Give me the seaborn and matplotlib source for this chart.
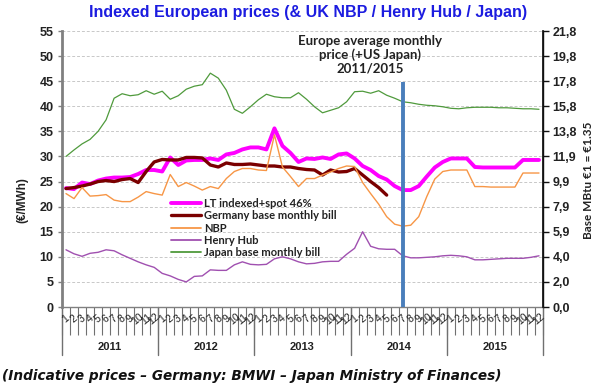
import matplotlib
matplotlib.use("Agg")
import matplotlib.pyplot as plt
import seaborn as sns
import pandas as pd
import numpy as np

# ---------------- data ----------------
years = ["2011", "2012", "2013", "2014", "2015"]
month_labels = [str(m) for m in range(1, 13)] * 5

lt_indexed = [23.7, 23.5, 24.8, 24.5, 25.2, 25.6, 25.8, 25.8, 25.9, 26.5, 27.3, 27.3,
              27.0, 29.8, 28.3, 29.2, 29.3, 29.3, 29.6, 29.3, 30.4, 30.7, 31.4, 31.8,
              31.8, 31.4, 35.6, 32.1, 30.7, 28.9, 29.6, 29.5, 29.8, 29.5, 30.4, 30.6,
              29.6, 28.1, 27.3, 26.1, 25.4, 24.1, 23.3, 23.3, 24.1, 26.0, 27.8, 28.9,
              29.6, 29.6, 29.6, 27.9, 27.8, 27.8, 27.8, 27.8, 27.8, 29.3, 29.3, 29.3]
germany = [23.6, 23.8, 24.1, 24.5, 25.0, 25.2, 25.0, 25.4, 25.6, 24.8, 27.0, 28.9,
           29.4, 29.3, 29.3, 29.8, 29.8, 29.7, 28.3, 27.9, 28.7, 28.4, 28.4, 28.5,
           28.3, 28.1, 28.1, 27.9, 27.9, 27.6, 27.4, 27.3, 26.3, 27.3, 26.9, 27.0,
           27.6, 26.3, 25.0, 23.8, 22.3]
nbp = [22.6, 21.6, 23.8, 22.1, 22.2, 22.4, 21.3, 21.0, 21.0, 21.9, 23.0, 22.6,
       22.3, 26.4, 24.0, 24.8, 24.1, 23.3, 24.0, 23.6, 25.6, 27.0, 27.6, 27.6,
       27.3, 27.2, 34.3, 27.9, 26.0, 24.0, 25.6, 25.6, 26.3, 26.9, 27.6, 28.1,
       28.0, 24.8, 22.6, 20.5, 18.0, 16.5, 16.1, 16.3, 18.0, 22.0, 25.5, 27.0,
       27.3, 27.3, 27.3, 24.0, 24.0, 23.9, 23.9, 23.9, 23.9, 26.7, 26.7, 26.7]
henry_hub = [11.4, 10.6, 10.1, 10.7, 10.9, 11.4, 11.2, 10.4, 9.7, 9.0, 8.4, 7.9,
             6.7, 6.2, 5.5, 5.0, 6.1, 6.2, 7.4, 7.3, 7.3, 8.4, 9.0, 8.5,
             8.4, 8.5, 9.6, 10.0, 9.6, 9.0, 8.6, 8.7, 9.0, 9.1, 9.1, 10.5,
             11.7, 15.0, 12.1, 11.6, 11.5, 11.5, 10.2, 9.8, 9.8, 9.9, 10.0, 10.2,
             10.3, 10.2, 10.0, 9.4, 9.4, 9.5, 9.6, 9.7, 9.7, 9.7, 9.9, 10.2]
japan = [30.0, 31.3, 32.5, 33.4, 35.0, 37.3, 41.6, 42.5, 42.1, 42.3, 43.1, 42.4,
         43.0, 41.4, 42.1, 43.4, 44.0, 44.3, 46.6, 45.6, 43.2, 39.4, 38.6, 39.9,
         41.3, 42.4, 41.9, 41.7, 41.7, 42.7, 41.4, 39.9, 38.7, 39.2, 39.7, 40.9,
         42.9, 43.0, 42.6, 43.1, 42.2, 41.6, 40.9, 40.7, 40.4, 40.2, 40.1, 39.9,
         39.6, 39.5, 39.7, 39.8, 39.8, 39.8, 39.7, 39.7, 39.6, 39.5, 39.5, 39.4]

left_ticks = [0, 5, 10, 15, 20, 25, 30, 35, 40, 45, 50, 55]
right_tick_labels = ["0,0", "2,0", "4,0", "5,9", "7,9", "9,9", "11,9", "13,8",
                     "15,8", "17,8", "19,8", "21,8"]
marker_month = 42          # July 2014
marker_top = 44.8

series_names = ["LT indexed+spot 46%", "Germany base monthly bill", "NBP",
                "Henry Hub", "Japan base monthly bill"]
series_values = [lt_indexed, germany, nbp, henry_hub, japan]
colors = ["#ff00ff", "#7a0000", "#f79646", "#a050b0", "#4f9a3c"]
widths = [2.8, 2.4, 1.0, 1.0, 0.9]

# ---------------- figure ----------------
sns.set_theme(style="white")
plt.rcParams["font.family"] = ["Liberation Sans", "DejaVu Sans"]

W, H = 598, 389
fig = plt.figure(figsize=(W / 100, H / 100), dpi=100)
x0, x1, y0, y1 = 62, 543, 31, 307
ax = fig.add_axes([x0 / W, 1 - y1 / H, (x1 - x0) / W, (y1 - y0) / H])

for name, vals, c, lw in zip(series_names, series_values, colors, widths):
    df = pd.DataFrame({"month": np.arange(len(vals)), "value": vals})
    sns.lineplot(data=df, x="month", y="value", ax=ax, color=c, linewidth=lw,
                 label=name, zorder=3)

ax.set_xlim(-0.5, 59.5)
ax.set_ylim(0, 55)
ax.set_yticks(left_ticks)
ax.set_yticklabels([str(t) for t in left_ticks], fontsize=9, fontweight="bold",
                   color="#222222")
ax.set_xlabel("")
ax.set_ylabel("")
for t in left_ticks[1:]:
    ax.axhline(t, color="#c8c8c8", lw=0.7, ls=(0, (3, 2)), zorder=1)

# spines
ax.spines["top"].set_visible(False)
ax.spines["left"].set_color("#808080")
ax.spines["left"].set_linewidth(2)
ax.spines["right"].set_color("#111111")
ax.spines["right"].set_linewidth(1)
ax.spines["bottom"].set_color("#808080")
ax.spines["bottom"].set_linewidth(1)
ax.tick_params(axis="y", left=True, length=3, width=1, color="#808080", pad=3)

# x axis: month boundary ticks
ax.set_xticks(np.arange(-0.5, 60, 1))
ax.set_xticklabels([])
ax.tick_params(axis="x", bottom=True, length=20, width=0.8, color="#707070",
               direction="out")
xtr = ax.get_xaxis_transform()
px = 1 / (y1 - y0)
for i, lab in enumerate(month_labels):
    ax.text(i, -12 * px, lab, transform=xtr, ha="center", va="center",
            fontsize=7.5, rotation=40, color="#222222")
for k in range(6):
    ax.plot([k * 12 - 0.5, k * 12 - 0.5], [0, -48 * px], transform=xtr,
            color="#707070", lw=1, clip_on=False)
for k, yr in enumerate(years):
    ax.text(k * 12 + 5.5, -40 * px, yr, transform=xtr, ha="center", va="center",
            fontsize=8, fontweight="bold", color="#222222")

# vertical marker line
ax.plot([marker_month, marker_month], [0, marker_top], color="#4a7ebb", lw=2.8,
        zorder=6, solid_capstyle="butt")

# right axis
ax2 = ax.twinx()
ax2.set_ylim(0, 55)
ax2.set_yticks(left_ticks)
ax2.set_yticklabels(right_tick_labels, fontsize=9, fontweight="bold",
                    color="#222222")
ax2.tick_params(axis="y", right=True, length=4, width=1, color="#111111", pad=3)
for s in ["top", "left", "bottom"]:
    ax2.spines[s].set_visible(False)
ax2.spines["right"].set_color("#111111")
ax2.grid(False)

# legend
handles, labels = ax.get_legend_handles_labels()
leg = ax.legend(handles, labels, loc="upper left",
                bbox_to_anchor=(171 / W, 1 - 198 / H), bbox_transform=fig.transFigure,
                frameon=False, fontsize=8, handlelength=2.7, handletextpad=0.3,
                labelspacing=0.12, borderpad=0, borderaxespad=0)
for t in leg.get_texts():
    t.set_fontweight("bold")
    t.set_color("#222222")
    t.set_family(["Lato", "DejaVu Sans"])
for lh, lw in zip(leg.get_lines(), [2.8, 2.4, 1.3, 1.3, 1.3]):
    lh.set_linewidth(lw)

# texts
fig.text(308 / W, 1 - 12 / H, "Indexed European prices (& UK NBP / Henry Hub / Japan)",
         ha="center", va="center", fontsize=11.5, fontweight="bold", color="#1c1ce0")
fig.text(370 / W, 1 - 55 / H, "Europe average monthly\nprice (+US Japan)\n2011/2015",
         ha="center", va="center", fontsize=9.5, fontweight="bold", color="#222222",
         family=["Lato", "DejaVu Sans"], linespacing=1.15)
fig.text(22 / W, 1 - 200 / H, "(€/MWh)", ha="center", va="center", rotation=90,
         fontsize=8.5, fontweight="bold", color="#222222")
fig.text(589 / W, 1 - 180 / H, "Base MBtu €1 = €1.35", ha="center", va="center",
         rotation=90, fontsize=8.5, fontweight="bold", color="#222222",
         family=["Lato", "DejaVu Sans"])
fig.text(2 / W, 1 - 376 / H,
         "(Indicative prices – Germany: BMWI – Japan Ministry of Finances)",
         ha="left", va="center", fontsize=9.8, fontweight="bold", style="italic",
         color="#111111", family=["DejaVu Sans"])

fig.savefig("out.png", dpi=100)
